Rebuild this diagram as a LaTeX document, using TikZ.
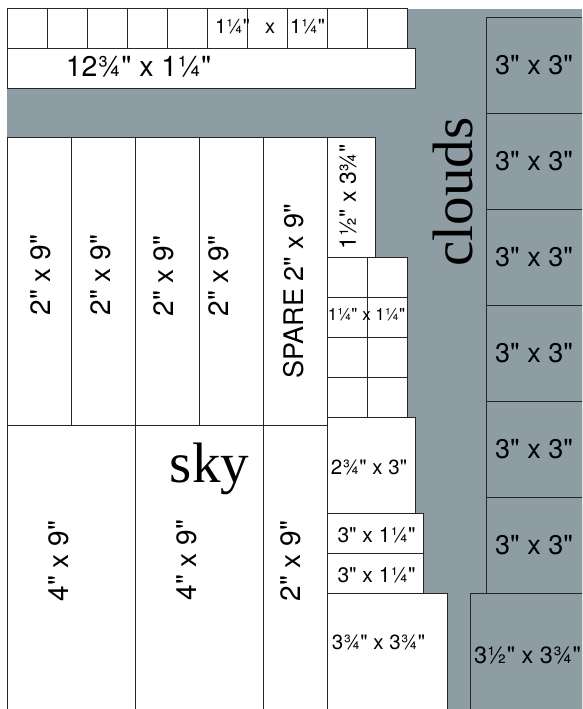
\documentclass[tikz,border=0pt]{standalone}
\usepackage{fontspec}
\newfontfamily\helv{TeX Gyre Heros}
\newfontfamily\serifface{Liberation Serif}
\definecolor{slate}{RGB}{142,156,163}
\begin{document}
\begin{tikzpicture}[x=1pt,y=-1pt,line width=0.9pt,
  piece/.style={draw=black!85,fill=white},
  cloudsq/.style={draw=black!85},
  lab/.style={inner sep=0pt,font=\helv\fontsize{#1}{#1}\selectfont},
  rlab/.style={lab=#1,rotate=90},
  big/.style={inner sep=0pt,font=\serifface\fontsize{57}{57}\selectfont}]
\useasboundingbox (0,0) rectangle (582,709);
\clip (0,0) rectangle (582,709);
\fill[white] (0,0) rectangle (582,709);
\fill[slate] (7,9) rectangle (582,709);
% top row of small squares
\foreach \i in {0,...,9} \draw[piece] ({7+40*\i},8.5) rectangle ++(40,40);
% long strip
\draw[piece] (7,48.5) rectangle ++(408,40);
% upper columns
\foreach \i in {0,...,4} \draw[piece] ({7+64*\i},137) rectangle ++(64,288);
% lower columns
\draw[piece] (7,425) rectangle ++(128,288);
\draw[piece] (135,425) rectangle ++(128,288);
\draw[piece] (263,425) rectangle ++(64,288);
% right stack
\draw[piece] (327,137) rectangle ++(48,120);
\foreach \c in {0,1} \foreach \r in {0,...,3} \draw[piece] ({327+40*\c},{257+40*\r}) rectangle ++(40,40);
\draw[piece] (327,417) rectangle ++(88,96);
\draw[piece] (327,513) rectangle ++(96,40);
\draw[piece] (327,553) rectangle ++(96,40);
\draw[piece] (327,593) rectangle ++(120,120);
% clouds
\foreach \r in {0,...,5} \draw[cloudsq] (486,{17+96*\r}) rectangle ++(96,96);
\draw[cloudsq] (470,593) rectangle ++(112,120);
% labels
\node[lab=20] (ltop) at (270,27) {1¼"\hspace{15pt}x\hspace{15pt}1¼"};
\node[lab=28.5] (lstrip) at (138.5,67) {12¾" x 1¼"};
\node[rlab=28] (c1) at (41,275) {2" x 9"};
\node[rlab=28] (c2) at (101,275) {2" x 9"};
\node[rlab=28] (c3) at (164,276) {2" x 9"};
\node[rlab=28] (c4) at (219,276) {2" x 9"};
\node[rlab=27] (c5) at (294,291) {SPARE 2" x 9"};
\node[rlab=23] (c6) at (348,197) {1½" x 3¾"};
\node[lab=17] (grid) at (366.5,315) {1¼" x 1¼"};
\node[rlab=28] (d1) at (59,561) {4" x 9"};
\node[rlab=28] (d2) at (187,560) {4" x 9"};
\node[rlab=28] (d3) at (291,561) {2" x 9"};
\node[lab=20.5] (e1) at (369,467) {2¾" x 3"};
\node[lab=21] (e2) at (376.5,535) {3" x 1¼"};
\node[lab=21] (e3) at (376.5,575) {3" x 1¼"};
\node[lab=20.5] (e4) at (378.5,642) {3¾" x 3¾"};
\foreach \r in {0,...,5} \node[lab=27] (s\r) at (534,{65+96*\r}) {3" x 3"};
\node[lab=23.5] (big) at (527.5,655) {3½" x 3¾"};
\node[big,anchor=base] (sky) at (209.5,482) {sky};
\node[big,anchor=base,rotate=90] (clouds) at (472,192) {clouds};
\end{tikzpicture}
\end{document}
